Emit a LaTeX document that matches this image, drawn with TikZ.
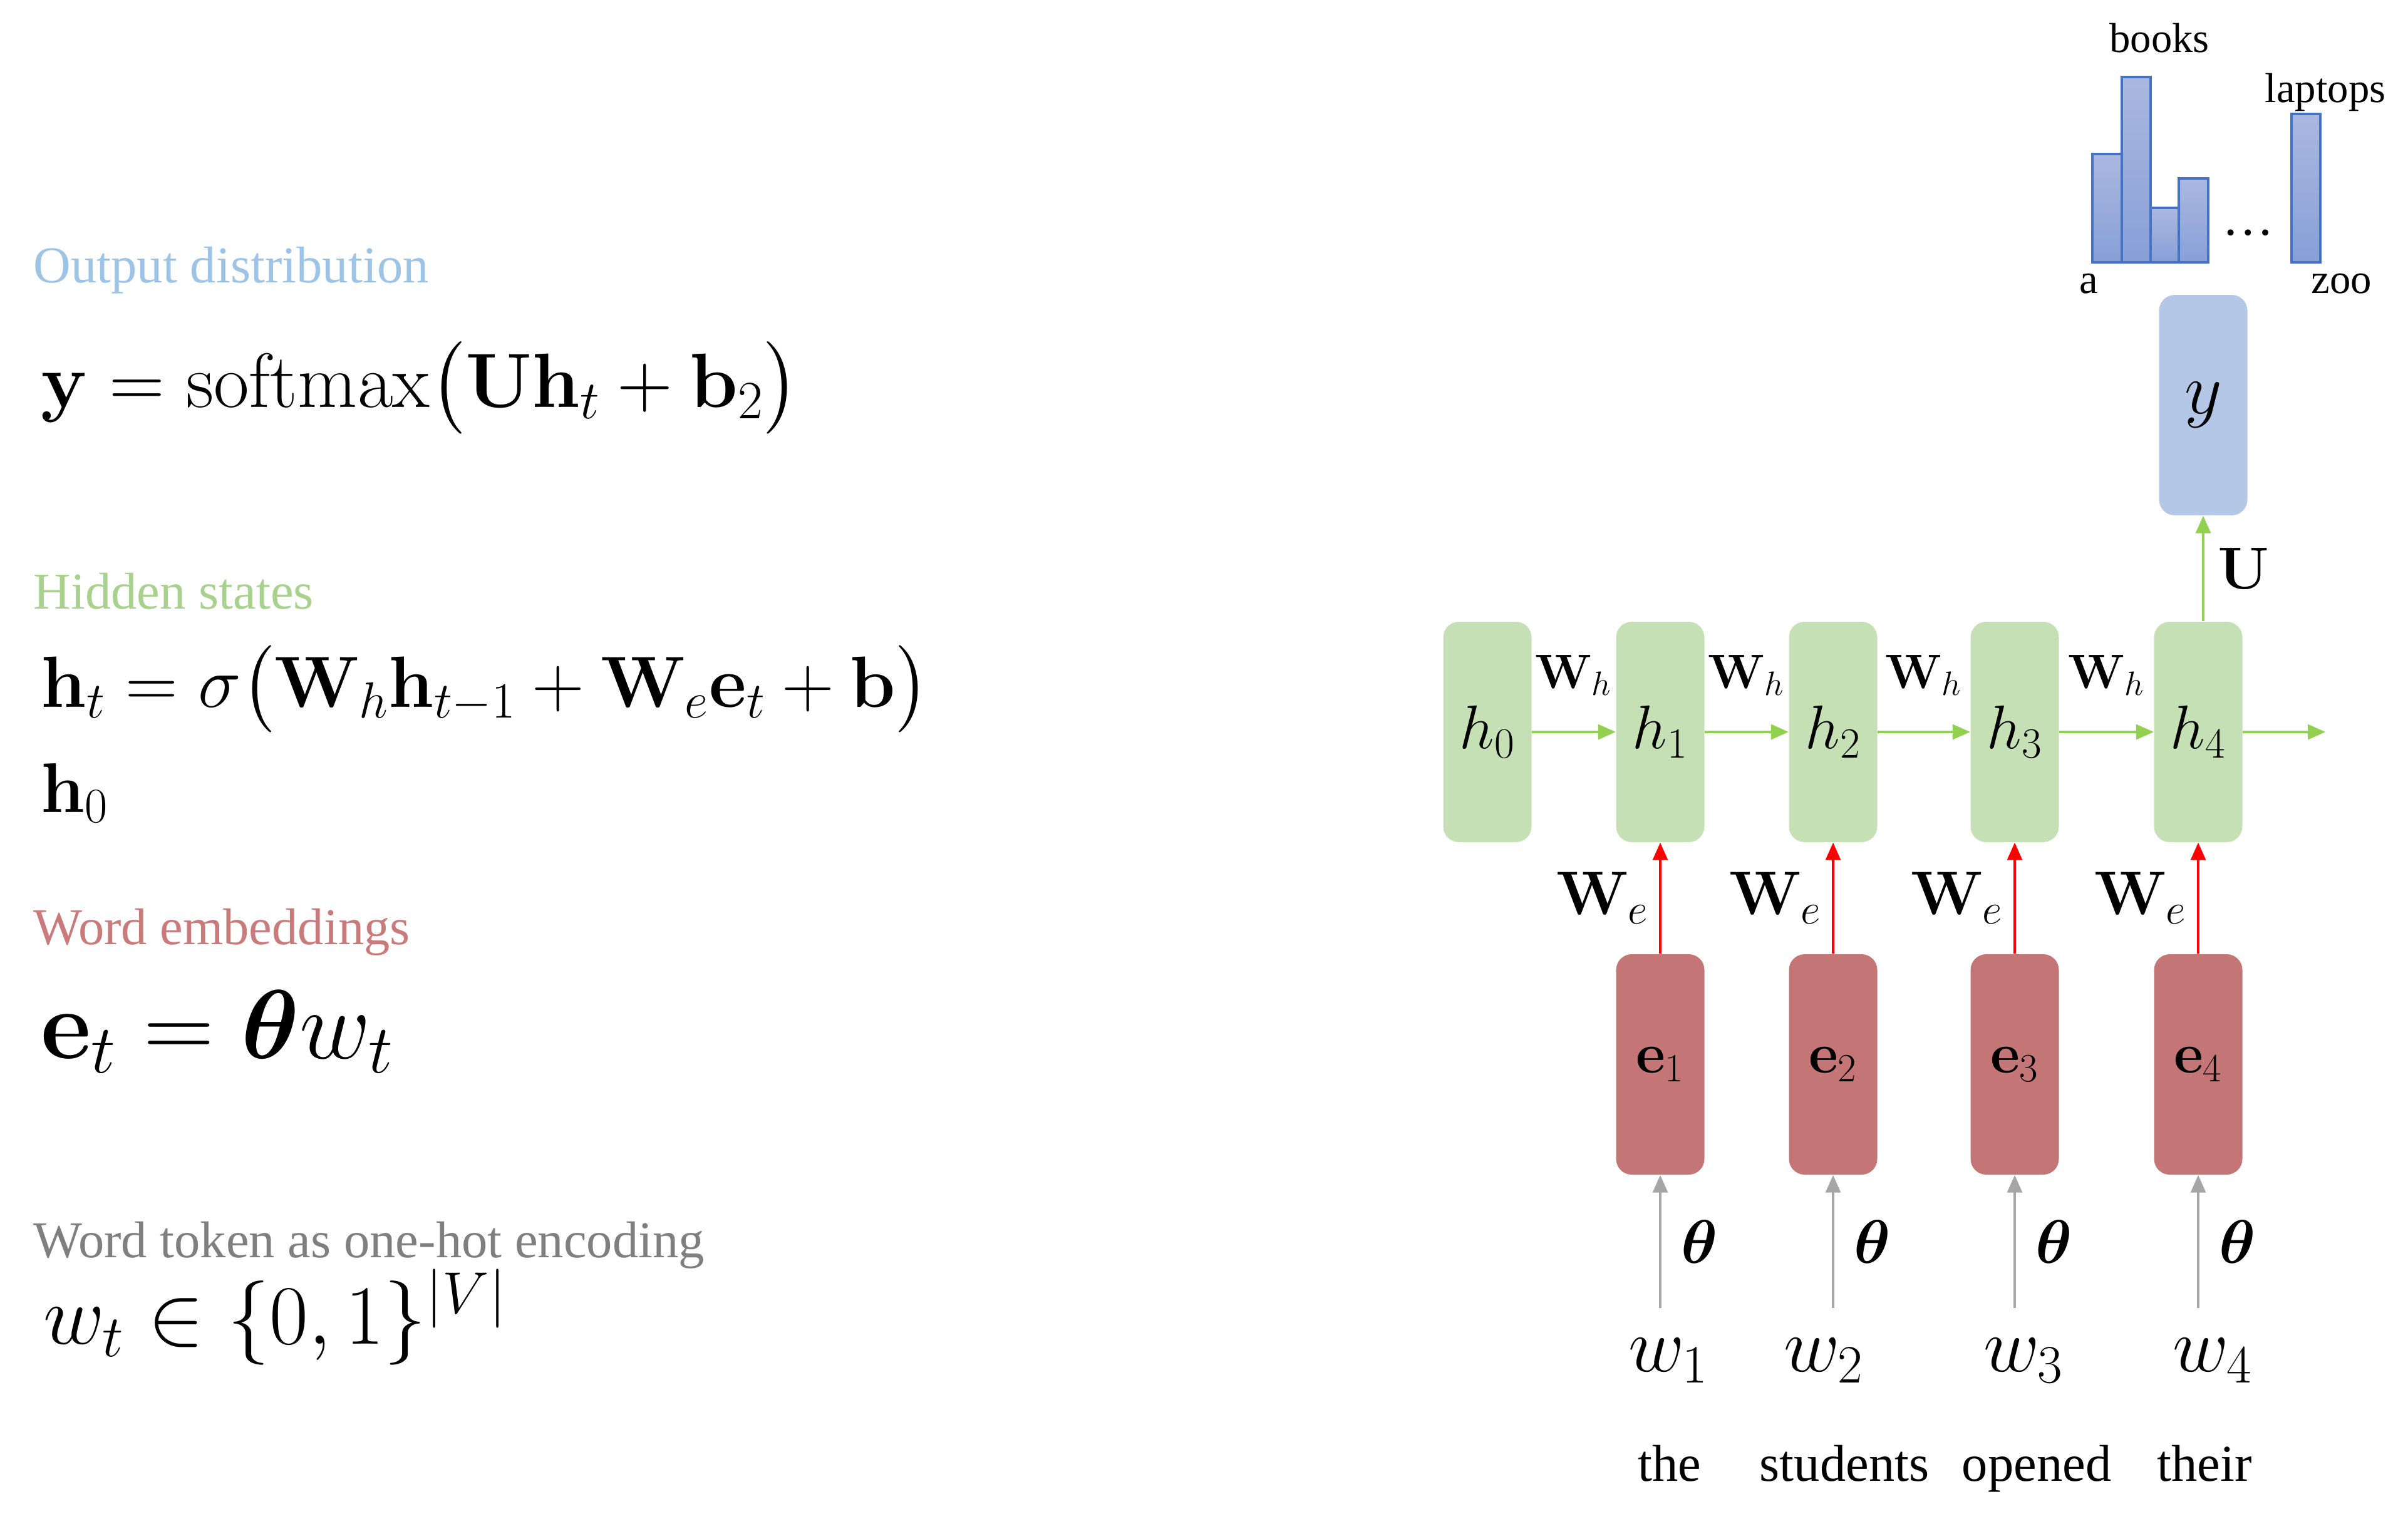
\RequirePackage{fix-cm}
\documentclass[tikz,border=0pt]{standalone}
\usepackage{amsmath,amssymb}
\usepackage{bm}
\usepackage[no-math]{fontspec}
\setmainfont{Liberation Serif}
\usetikzlibrary{arrows.meta, positioning}

\definecolor{hgreen}{HTML}{C5E0B4}
\definecolor{ered}{HTML}{C47575}
\definecolor{yblue}{HTML}{B4C7E7}
\definecolor{arrgreen}{HTML}{92D050}
\definecolor{arrgray}{HTML}{A6A6A6}
\definecolor{bartop}{HTML}{AAB8E0}
\definecolor{barbot}{HTML}{889FD7}
\definecolor{baredge}{HTML}{4472C4}
\definecolor{outblue}{HTML}{9DC3E6}
\definecolor{hidgreen}{HTML}{A9D18E}
\definecolor{embred}{HTML}{C97B7B}
\definecolor{tokgray}{HTML}{7F7F7F}

\newcommand{\sz}[1]{\fontsize{#1}{#1}\selectfont}

\tikzset{
  cell/.style={rounded corners=0.25cm, minimum width=1.41cm, minimum height=3.52cm, inner sep=0pt},
  hcell/.style={cell, fill=hgreen, font=\sz{28}},
  ecell/.style={cell, fill=ered, font=\sz{26}},
  ycell/.style={cell, fill=yblue, font=\sz{33}},
  tip/.style={-{Triangle[length=0.28cm,width=0.24cm]}, line width=0.9pt},
  garr/.style={tip, draw=arrgreen},
  rarr/.style={tip, draw=red},
  karr/.style={tip, draw=arrgray},
  bar/.style={draw=baredge, line width=1.2pt, top color=bartop, bottom color=barbot},
  heading/.style={anchor=base west, inner sep=0pt, font=\sz{23.5}},
  formula/.style={anchor=base west, inner sep=0pt},
  word/.style={anchor=base, font=\sz{23.5}}
}

\begin{document}
\begin{tikzpicture}
  \useasboundingbox (0,0) rectangle (38.45,-24.33);

  % left column
  \node[heading, text=outblue] (outlbl) at (0.53,-4.51) {Output distribution};
  \node[formula, font=\sz{35}] (yeq) at (0.65,-6.50)
    {$\mathbf{y} = \mathrm{softmax}\big(\mathbf{U}\mathbf{h}_t + \mathbf{b}_2\big)$};
  \node[heading, text=hidgreen] (hidlbl) at (0.53,-9.72) {Hidden states};
  \node[formula, font=\sz{33}] (heq) at (0.65,-11.29)
    {$\mathbf{h}_t = \sigma\big(\mathbf{W}_h\mathbf{h}_{t-1} + \mathbf{W}_e\mathbf{e}_t + \mathbf{b}\big)$};
  \node[formula, font=\sz{32}] (hzero) at (0.65,-12.97) {$\mathbf{h}_0$};
  \node[heading, text=embred] (emblbl) at (0.53,-15.08) {Word embeddings};
  \node[formula, font=\sz{44.5}] (eeq) at (0.65,-16.90) {$\mathbf{e}_t = \bm{\theta} w_t$};
  \node[heading, text=tokgray] (toklbl) at (0.53,-20.08) {Word token as one-hot encoding};
  \node[formula, font=\sz{38.3}] (weq) at (0.69,-21.46) {$w_t \in \{0,1\}^{|V|}$};

  % hidden states
  \node[hcell] (h0) at (23.75,-11.69) {$h_0$};
  \node[hcell] (h1) at (26.51,-11.69) {$h_1$};
  \node[hcell] (h2) at (29.27,-11.69) {$h_2$};
  \node[hcell] (h3) at (32.17,-11.69) {$h_3$};
  \node[hcell] (h4) at (35.10,-11.69) {$h_4$};
  \coordinate (hend) at (37.13,-11.69);

  % embeddings
  \node[ecell] (e1) at (26.51,-17.00) {$\mathbf{e}_1$};
  \node[ecell] (e2) at (29.27,-17.00) {$\mathbf{e}_2$};
  \node[ecell] (e3) at (32.17,-17.00) {$\mathbf{e}_3$};
  \node[ecell] (e4) at (35.10,-17.00) {$\mathbf{e}_4$};

  % output
  \node[ycell] (y) at (35.18,-6.47) {$y$};

  % words
  \node[font=\sz{35}] (w1) at (26.64,-21.73) {$w_1$};
  \node[font=\sz{35}] (w2) at (29.12,-21.73) {$w_2$};
  \node[font=\sz{35}] (w3) at (32.31,-21.73) {$w_3$};
  \node[font=\sz{35}] (w4) at (35.33,-21.73) {$w_4$};
  \coordinate (t1) at (26.51,-20.89);
  \coordinate (t2) at (29.27,-20.89);
  \coordinate (t3) at (32.17,-20.89);
  \coordinate (t4) at (35.10,-20.89);
  \node[word] (the) at (26.66,-23.65) {the};
  \node[word] (students) at (29.45,-23.65) {students};
  \node[word] (opened) at (32.52,-23.65) {opened};
  \node[word] (their) at (35.20,-23.65) {their};

  % connectors
  \draw[garr] (h0) -- node[above=0.45cm, font=\sz{22}, black] {$\mathbf{W}_h$} (h1);
  \draw[garr] (h1) -- node[above=0.45cm, font=\sz{22}, black] {$\mathbf{W}_h$} (h2);
  \draw[garr] (h2) -- node[above=0.45cm, font=\sz{22}, black] {$\mathbf{W}_h$} (h3);
  \draw[garr] (h3) -- node[above=0.45cm, font=\sz{22}, black] {$\mathbf{W}_h$} (h4);
  \draw[garr] (h4) -- (hend);
  \draw[garr] (h4.north -| y) -- node[right=0.1cm, font=\sz{27}, black] {$\mathbf{U}$} (y);
  \draw[rarr] (e1) -- node[left=0.05cm, font=\sz{28}, black] {$\mathbf{W}_e$} (h1);
  \draw[rarr] (e2) -- node[left=0.05cm, font=\sz{28}, black] {$\mathbf{W}_e$} (h2);
  \draw[rarr] (e3) -- node[left=0.05cm, font=\sz{28}, black] {$\mathbf{W}_e$} (h3);
  \draw[rarr] (e4) -- node[left=0.05cm, font=\sz{28}, black] {$\mathbf{W}_e$} (h4);
  \draw[karr] (t1) -- node[right=0.2cm, font=\sz{28}, black] {$\bm{\theta}$} (e1);
  \draw[karr] (t2) -- node[right=0.2cm, font=\sz{28}, black] {$\bm{\theta}$} (e2);
  \draw[karr] (t3) -- node[right=0.2cm, font=\sz{28}, black] {$\bm{\theta}$} (e3);
  \draw[karr] (t4) -- node[right=0.2cm, font=\sz{28}, black] {$\bm{\theta}$} (e4);

  % distribution
  \draw[bar] (33.41,-4.19) rectangle (33.88,-2.46);
  \draw[bar] (33.88,-4.19) rectangle (34.34,-1.23);
  \draw[bar] (34.34,-4.19) rectangle (34.79,-3.32);
  \draw[bar] (34.79,-4.19) rectangle (35.26,-2.85);
  \draw[bar] (36.59,-4.19) rectangle (37.05,-1.82);
  \node[font=\sz{19}] (books) at (34.48,-0.61) {books};
  \node[font=\sz{19}] (laptops) at (37.13,-1.47) {laptops};
  \node[font=\sz{19}] (aword) at (33.35,-4.53) {a};
  \node[font=\sz{19}] (zoo) at (37.39,-4.53) {zoo};
  \node[font=\sz{23.5}] (dots) at (35.90,-3.72) {\dots};
\end{tikzpicture}
\end{document}
